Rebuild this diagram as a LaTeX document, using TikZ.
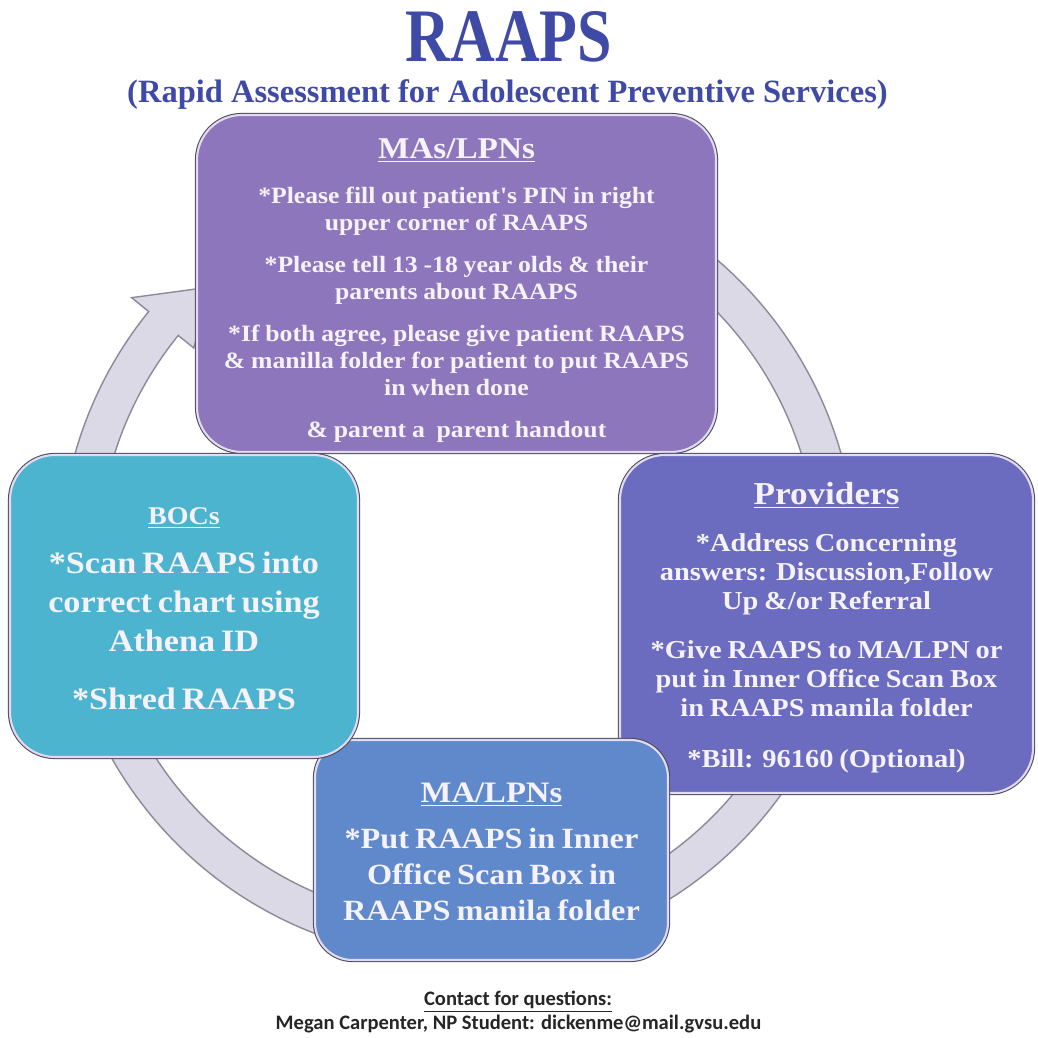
\documentclass[tikz,border=0pt]{standalone}
\usepackage{fontspec}
\setmainfont{Liberation Serif}
\newfontfamily\cardfont[FakeStretch=1.1]{Liberation Serif}
\newfontfamily\headfont[FakeStretch=0.82]{Liberation Serif}
\newfontfamily\contactfont{Carlito}

\definecolor{raapsblue}{HTML}{3F4AA6}
\definecolor{mauve}{HTML}{8E76BC}
\definecolor{periwinkle}{HTML}{6B6BBF}
\definecolor{steel}{HTML}{5F89CB}
\definecolor{cyanbox}{HTML}{4DB4D0}
\definecolor{ringfill}{HTML}{DCD9E7}
\definecolor{ringedge}{HTML}{8C8A98}
\definecolor{cardedge}{HTML}{4A4A5A}
\definecolor{cardlight}{HTML}{E2DAF0}
\definecolor{cardtext}{HTML}{F6F2FA}

% underlined heading line inside a card
\newcommand{\cardhead}[2]{{\fontsize{#1}{#1}\selectfont\underline{#2}\par}}

\tikzset{
  card/.style={
    rectangle,
    rounded corners=0.9cm,
    draw=cardlight,
    line width=1.2pt,
    preaction={draw=cardedge, line width=2.4pt},
    text=cardtext,
    align=center,
    inner sep=0pt,
    font=\cardfont\bfseries
  },
  ring/.style={
    fill=ringfill,
    draw=ringedge,
    line width=0.8pt
  },
  heading/.style={
    text=raapsblue,
    anchor=base,
    inner sep=0pt
  },
  contact/.style={
    font=\contactfont\bfseries\fontsize{11.7}{13}\selectfont,
    text=black!85,
    anchor=base,
    inner sep=0pt
  }
}

\begin{document}
\begin{tikzpicture}
  \fill[white] (0,0) rectangle (20.76,20.76);
  \useasboundingbox (0,0) rectangle (20.76,20.76);

  \node[heading, font=\headfont\bfseries\fontsize{43}{43}\selectfont] (title) at (10.18,19.52) {RAAPS};
  \node[heading, font=\bfseries\fontsize{18.5}{18.5}\selectfont] (subtitle) at (10.15,18.7) {(Rapid Assessment for Adolescent Preventive Services)};

  % cycle ring behind the cards
  \coordinate (hub) at (9.16,9.52);
  \draw[ring] ([shift={(80:7.96)}]hub) arc[start angle=80, end angle=-219, radius=7.96]
    -- ([shift={(-219:8.4)}]hub) -- ([shift={(-228:7.4)}]hub) -- ([shift={(-219:6.8)}]hub)
    -- ([shift={(-219:7.2)}]hub) arc[start angle=-219, end angle=80, radius=7.2] -- cycle;

  \node[card, fill=mauve, minimum width=10.38cm, minimum height=6.74cm, text width=10cm] (mas) at (9.13,15.09) {%
    \cardhead{17.2}{MAs/LPNs}\vspace{10pt}
    \fontsize{13.3}{15.4}\selectfont
    *Please fill out patient's PIN in right\\ upper corner of RAAPS\par\vspace{8.5pt}
    *Please tell 13 -18 year olds \& their\\ parents about RAAPS\par\vspace{8.5pt}
    *If both agree, please give patient RAAPS\\ \& manilla folder for patient to put RAAPS\\ in when done\par\vspace{8.5pt}
    \& parent a\ \ parent handout\par\vspace{-8pt}};

  \node[card, fill=periwinkle, minimum width=8.26cm, minimum height=6.76cm, text width=7.9cm] (providers) at (16.53,8.28) {%
    \cardhead{18.2}{Providers}\vspace{10.4pt}
    \fontsize{14.7}{16.4}\selectfont
    *Address Concerning\\ answers: Discussion,Follow\\ Up \&/or Referral\par\vspace{11.6pt}
    *Give RAAPS to MA/LPN or\\ put in Inner Office Scan Box\\ in RAAPS manila folder\par\vspace{12.5pt}
    *Bill: 96160 (Optional)\par\vspace{-4pt}};

  \node[card, fill=steel, rounded corners=0.75cm, minimum width=7.06cm, minimum height=4.4cm, text width=6.7cm] (malpn) at (9.83,3.76) {%
    \cardhead{16.9}{MA/LPNs}\vspace{6pt}
    \fontsize{16.7}{20.4}\selectfont
    *Put RAAPS in Inner\\ Office Scan Box in\\ RAAPS manila folder\par\vspace{-2pt}};

  \node[card, fill=cyanbox, minimum width=6.96cm, minimum height=6.04cm, text width=6.6cm] (bocs) at (3.68,8.64) {%
    \cardhead{14.5}{BOCs}\vspace{6pt}
    \fontsize{17.7}{22}\selectfont
    *Scan RAAPS into\\ correct chart using\\ Athena ID\par\vspace{11pt}
    *Shred RAAPS\par\vspace{-3pt}};

  \node[contact] (contact) at (10.36,0.64) {\underline{Contact for questions:}};
  \node[contact] (student) at (10.37,0.16) {Megan Carpenter, NP Student: dickenme@mail.gvsu.edu};
\end{tikzpicture}
\end{document}
